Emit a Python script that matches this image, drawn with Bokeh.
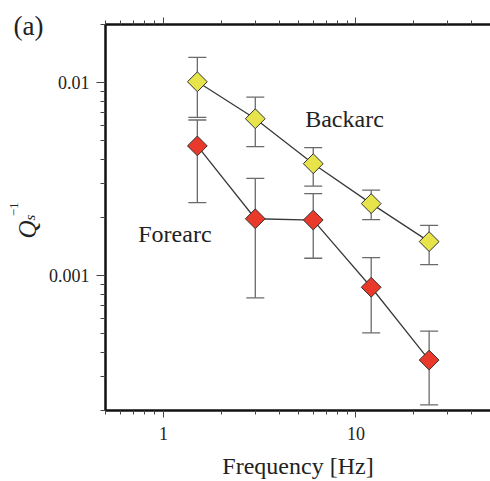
from bokeh.plotting import figure
from bokeh.models import (LogAxis, Label, CustomJSTickFormatter, Range1d, FixedTicker)
from bokeh.embed import file_html
from bokeh.resources import INLINE

# ---- data ----
freq = [1.5, 3.0, 6.0, 12.0, 24.0]
back_q = [0.0101, 0.0065, 0.0038, 0.00236, 0.0015]
back_up = [0.0135, 0.0084, 0.0046, 0.00277, 0.00182]
back_lo = [0.0066, 0.00466, 0.00291, 0.00195, 0.00114]
fore_q = [0.0047, 0.00197, 0.00194, 0.00087, 0.000365]
fore_up = [0.0064, 0.00319, 0.00266, 0.00124, 0.000516]
fore_lo = [0.00239, 0.000767, 0.00123, 0.000505, 0.000214]

x_major = [1, 10]
x_minor = [0.5, 0.6, 0.7, 0.8, 0.9, 2, 3, 4, 5, 6, 7, 8, 9, 20, 30, 40, 50]
y_major = [0.001, 0.01]
y_minor = [0.0002, 0.0003, 0.0004, 0.0005, 0.0006, 0.0007, 0.0008, 0.0009,
           0.002, 0.003, 0.004, 0.005, 0.006, 0.007, 0.008, 0.009, 0.02]

SERIF = "Liberation Serif"
YELLOW = "#e6e44a"
RED = "#e8392a"
ERR = "#6a6a6a"
LINE = "#3a3a3a"

SHIFT = 40  # canvas is shifted left so the frame starts at x=105 on screen

p = figure(width=490 + SHIFT, height=481, x_axis_type="log", y_axis_type="log",
           x_range=Range1d(0.5, 50), y_range=Range1d(0.0002, 0.02),
           output_backend="svg", toolbar_location=None,
           min_border_left=105 + SHIFT, min_border_right=0, min_border_top=24,
           min_border_bottom=71)
p.margin = (0, 0, 0, -SHIFT)
p.outline_line_color = None
p.grid.visible = False
p.background_fill_color = "white"
p.border_fill_color = "white"

fmt = CustomJSTickFormatter(code="return Number(tick.toPrecision(3)).toString();")

for ax in p.yaxis:
    ax.ticker = FixedTicker(ticks=y_major, minor_ticks=y_minor)
    ax.formatter = fmt
    ax.axis_line_width = 2.5
    ax.axis_line_color = "#111111"
    ax.major_tick_out = 9
    ax.major_tick_in = 0
    ax.minor_tick_out = 5
    ax.minor_tick_in = 0
    ax.major_tick_line_color = "#444444"
    ax.minor_tick_line_color = "#444444"
    ax.major_label_text_font = SERIF
    ax.major_label_text_font_size = "18px"
    ax.major_label_text_color = "#222222"
    ax.major_label_standoff = 7

for ax in p.xaxis:
    ax.ticker = FixedTicker(ticks=x_major, minor_ticks=x_minor)
    ax.formatter = fmt
    ax.axis_line_width = 2.5
    ax.axis_line_color = "#111111"
    ax.major_tick_out = 7
    ax.major_tick_in = 0
    ax.minor_tick_out = 4
    ax.minor_tick_in = 0
    ax.major_tick_line_color = "#444444"
    ax.minor_tick_line_color = "#444444"
    ax.major_label_text_font = SERIF
    ax.major_label_text_font_size = "18px"
    ax.major_label_text_color = "#222222"
    ax.major_label_standoff = 9
    ax.axis_label = "Frequency [Hz]"
    ax.axis_label_text_font = SERIF
    ax.axis_label_text_font_size = "24px"
    ax.axis_label_text_font_style = "normal"
    ax.axis_label_text_color = "#222222"
    ax.axis_label_standoff = 10

top = LogAxis(ticker=FixedTicker(ticks=x_major, minor_ticks=x_minor),
              formatter=CustomJSTickFormatter(code="return '';"),
              axis_line_width=2.5, axis_line_color="#111111",
              major_tick_out=7, major_tick_in=0, minor_tick_out=4, minor_tick_in=0,
              major_tick_line_color="#444444", minor_tick_line_color="#444444",
              major_label_standoff=0, major_label_text_font_size="1px")
p.add_layout(top, "above")

# error bars (segments + caps)
for q_up, q_lo in ((back_up, back_lo), (fore_up, fore_lo)):
    p.segment(x0=freq, y0=q_lo, x1=freq, y1=q_up, line_color=ERR, line_width=1.3)
    p.scatter(freq, q_up, marker="dash", size=18, line_color=ERR, line_width=1.3)
    p.scatter(freq, q_lo, marker="dash", size=18, line_color=ERR, line_width=1.3)

# lines and markers
p.line(freq, back_q, line_color=LINE, line_width=1.3)
p.line(freq, fore_q, line_color=LINE, line_width=1.3)
p.scatter(freq, back_q, marker="square", size=14, angle=0.785398,
          fill_color=YELLOW, line_color="#333333", line_width=1)
p.scatter(freq, fore_q, marker="square", size=14, angle=0.785398,
          fill_color=RED, line_color="#333333", line_width=1)

# text labels in the plot
p.add_layout(Label(x=5.45, y=0.0065, text="Backarc", text_font=SERIF,
                   text_font_size="24px", text_color="#222222",
                   text_baseline="alphabetic"))
p.add_layout(Label(x=0.74, y=0.00165, text="Forearc", text_font=SERIF,
                   text_font_size="24px", text_color="#222222",
                   text_baseline="alphabetic"))

# y axis label Q_s^{-1} and panel tag: placed in the left side panel so they
# are not clipped to the frame
p.add_layout(Label(x=0.197, y=0.001732, text="Q",
                   angle=1.5708, text_font=SERIF, text_font_style="italic",
                   text_font_size="25px", text_color="#222222",
                   text_align="center", text_baseline="alphabetic"), "left")
p.add_layout(Label(x=0.2037, y=0.00193, text="s",
                   angle=1.5708, text_font=SERIF, text_font_style="italic",
                   text_font_size="15px", text_color="#222222",
                   text_align="left", text_baseline="alphabetic"), "left")
p.add_layout(Label(x=0.1665, y=0.00203, text="\u22121",
                   angle=1.5708, text_font=SERIF,
                   text_font_size="13px", text_color="#222222",
                   text_align="left", text_baseline="alphabetic"), "left")
p.add_layout(Label(x=0.1662, y=0.0196, text="(a)",
                   text_font=SERIF, text_font_size="27px", text_color="#222222",
                   text_align="left", text_baseline="alphabetic"), "left")

open("out.html", "w").write(file_html(p, INLINE))
